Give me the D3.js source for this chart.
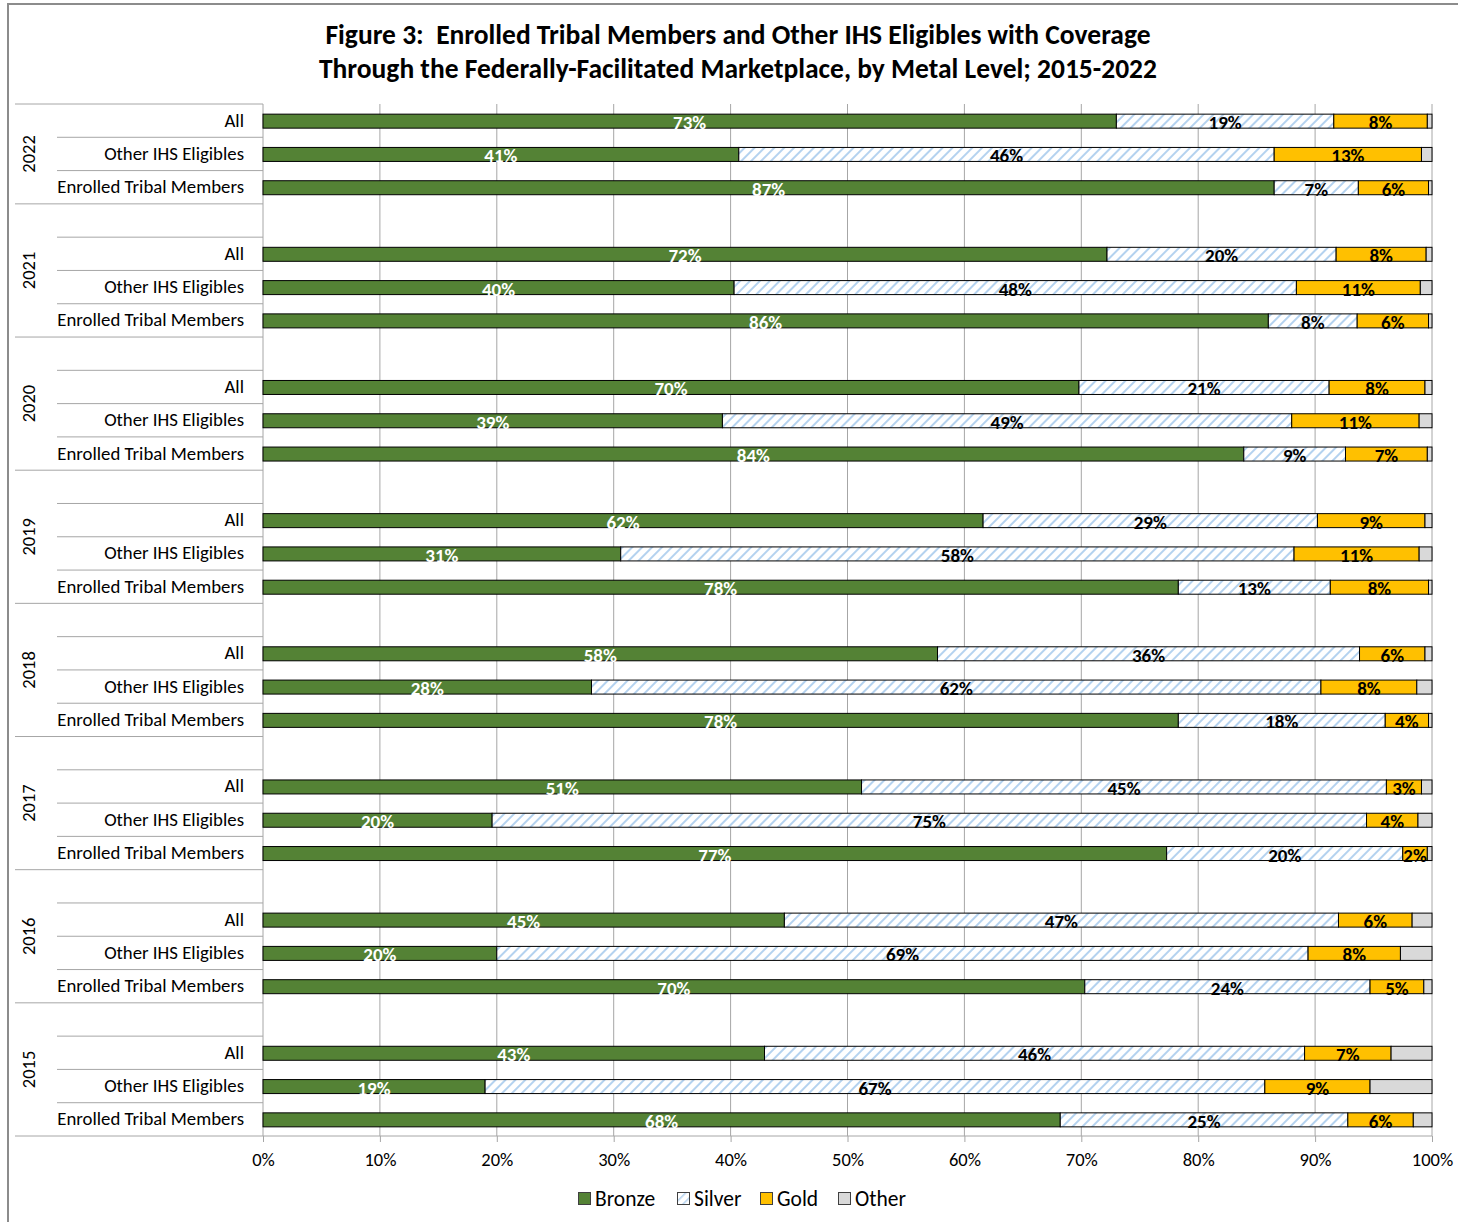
<!DOCTYPE html>
<html>
<head>
<meta charset="utf-8">
<script src="https://cdn.jsdelivr.net/npm/d3@7"></script>
<style>
  body { margin: 0; background: #fff; }
  svg { font-family: Carlito, Calibri, Lato, sans-serif; }
</style>
</head>
<body>
<svg id="canvas" width="1458" height="1222"></svg>
<script>
// years from top to bottom, groups inside each year from top to bottom
let years = ['2022', '2021', '2020', '2019', '2018', '2017', '2016', '2015']
let groups = ['All', 'Other IHS Eligibles', 'Enrolled Tribal Members']
let metals = ['Bronze', 'Silver', 'Gold', 'Other']

// shares in percent, 3 values per year (All, Other IHS, Enrolled), years 2022 -> 2015
let bronze = [73.0, 40.7, 86.5,  72.2, 40.3, 86.0,  69.8, 39.3, 83.9,  61.6, 30.6, 78.3,
              57.7, 28.1, 78.3,  51.2, 19.6, 77.3,  44.6, 20.0, 70.3,  42.9, 19.0, 68.2]
let silver = [18.6, 45.8,  7.2,  19.6, 48.1,  7.6,  21.4, 48.7,  8.7,  28.6, 57.6, 13.0,
              36.1, 62.4, 17.7,  44.9, 74.8, 20.2,  47.4, 69.4, 24.4,  46.2, 66.7, 24.6]
let gold   = [ 8.0, 12.6,  6.0,   7.7, 10.6,  6.1,   8.2, 10.9,  7.0,   9.2, 10.7,  8.4,
               5.6,  8.2,  3.7,   3.0,  4.4,  2.1,   6.3,  7.9,  4.6,   7.4,  9.0,  5.6]
let other  = [ 0.4,  0.9,  0.3,   0.5,  1.0,  0.3,   0.6,  1.1,  0.4,   0.6,  1.1,  0.3,
               0.6,  1.3,  0.3,   0.9,  1.2,  0.4,   1.7,  2.7,  0.7,   3.5,  5.3,  1.6]
let xTicks = [0, 10, 20, 30, 40, 50, 60, 70, 80, 90, 100]

let colors = { Bronze: '#548235', Silver: 'url(#hatch)', Gold: '#ffc000', Other: '#d9d9d9' }
let legendColors = { Bronze: '#548235', Silver: 'url(#hatchSmall)', Gold: '#ffc000', Other: '#d9d9d9' }

let canvas = d3.select('#canvas')

let defs = canvas.append('defs')
let makeHatch = (id, size, width) => {
    let p = defs.append('pattern')
        .attr('id', id)
        .attr('patternUnits', 'userSpaceOnUse')
        .attr('width', size).attr('height', size)
        .attr('patternTransform', 'rotate(45)')
    p.append('rect').attr('width', size).attr('height', size).attr('fill', '#fff')
    p.append('line')
        .attr('x1', 0).attr('y1', 0).attr('x2', 0).attr('y2', size)
        .attr('stroke', '#b4d2ef').attr('stroke-width', width)
}
makeHatch('hatch', 7, 4)
makeHatch('hatchSmall', 6, 3)

// chart frame (right and bottom edges fall outside the picture)
canvas.append('rect')
    .attr('x', 8).attr('y', 4).attr('width', 1480).attr('height', 1250)
    .attr('fill', 'none').attr('stroke', '#8c8c8c').attr('stroke-width', 2)

// title
let title = canvas.append('text')
    .attr('text-anchor', 'middle')
    .attr('font-weight', 'bold')
    .attr('font-size', 27.5)
    .attr('fill', '#000')
    .style('white-space', 'pre')
title.append('tspan').attr('x', 738).attr('y', 44)
    .text('Figure 3:  Enrolled Tribal Members and Other IHS Eligibles with Coverage')
title.append('tspan').attr('x', 738).attr('y', 78)
    .text('Through the Federally-Facilitated Marketplace, by Metal Level; 2015-2022')

// rows: each year after the first starts with an empty slot
let rows = []
years.forEach((year, yi) => {
    if (yi > 0) rows.push({ key: year + '-gap', year: year, gap: true })
    groups.forEach((g, gi) => {
        let i = yi * groups.length + gi
        rows.push({
            key: year + '-' + g, year: year, group: g, gap: false,
            values: { Bronze: bronze[i], Silver: silver[i], Gold: gold[i], Other: other[i] }
        })
    })
})

let plotLeft = 263, plotRight = 1432, plotTop = 104, plotBottom = 1136

let xScale = d3.scaleLinear().domain([0, 100]).range([plotLeft, plotRight])
let yScale = d3.scaleBand().domain(rows.map(r => r.key)).range([plotTop, plotBottom]).padding(0)
let bw = yScale.bandwidth()
let barH = 14

// vertical gridlines
canvas.append('g').selectAll('line')
    .data(xTicks.slice(1))
    .enter().append('line')
    .attr('x1', d => xScale(d)).attr('x2', d => xScale(d))
    .attr('y1', plotTop).attr('y2', plotBottom)
    .attr('stroke', '#a6a6a6').attr('stroke-width', 1)

// x axis
let xAxis = d3.axisBottom(xScale)
    .tickValues(xTicks)
    .tickFormat(d => d + '%')
    .tickSize(6)
    .tickPadding(11)
let axisG = canvas.append('g')
    .attr('transform', 'translate(0,' + plotBottom + ')')
    .call(xAxis)
axisG.select('.domain').attr('stroke', '#a6a6a6').attr('d', 'M' + plotLeft + ',0H' + plotRight)
axisG.selectAll('.tick line').attr('stroke', '#a6a6a6')
axisG.selectAll('.tick text')
    .attr('font-family', 'Carlito, Calibri, Lato, sans-serif')
    .attr('font-size', 18.5).attr('fill', '#000')

// y axis line
canvas.append('line')
    .attr('x1', plotLeft).attr('x2', plotLeft)
    .attr('y1', plotTop).attr('y2', plotBottom)
    .attr('stroke', '#a6a6a6')

// category separators: long lines between years, short lines inside a year
let boundaries = []
rows.forEach((r, i) => {
    let y = yScale(r.key)
    let newYear = i === 0 || rows[i - 1].year !== r.year
    boundaries.push({ y: y, long: newYear })
})
boundaries.push({ y: plotBottom, long: true })
canvas.append('g').selectAll('line')
    .data(boundaries)
    .enter().append('line')
    .attr('x1', d => d.long ? 15 : 57).attr('x2', plotLeft)
    .attr('y1', d => d.y).attr('y2', d => d.y)
    .attr('stroke', '#a6a6a6').attr('stroke-width', 1)

// group labels
canvas.append('g').selectAll('text')
    .data(rows.filter(r => !r.gap))
    .enter().append('text')
    .attr('x', 244)
    .attr('y', r => yScale(r.key) + bw / 2 + 6)
    .attr('text-anchor', 'end')
    .attr('font-size', 18.8)
    .attr('fill', '#000')
    .text(r => r.group)

// year labels
canvas.append('g').selectAll('text')
    .data(years)
    .enter().append('text')
    .attr('transform', year => {
        let yearRows = rows.filter(r => r.year === year)
        let top = yScale(yearRows[0].key)
        let bottom = yScale(yearRows[yearRows.length - 1].key) + bw
        return 'translate(35,' + ((top + bottom) / 2) + ') rotate(-90)'
    })
    .attr('text-anchor', 'middle')
    .attr('font-size', 18.5)
    .attr('fill', '#000')
    .text(d => d)

// stacked bars
let segments = []
rows.filter(r => !r.gap).forEach(r => {
    let start = 0
    metals.forEach(m => {
        let v = r.values[m]
        segments.push({ row: r, metal: m, x0: start, x1: start + v, value: v })
        start += v
    })
})

let block = canvas.append('g').selectAll('g')
    .data(segments)
    .enter().append('g')

block.append('rect')
    .attr('x', s => xScale(s.x0))
    .attr('y', s => yScale(s.row.key) + (bw - barH) / 2 + 0.5)
    .attr('width', s => xScale(s.x1) - xScale(s.x0))
    .attr('height', barH)
    .attr('fill', s => colors[s.metal])
    .attr('stroke', '#000')
    .attr('stroke-width', 1)

block.filter(s => s.metal !== 'Other')
    .append('text')
    .attr('x', s => xScale((s.x0 + s.x1) / 2))
    .attr('y', s => yScale(s.row.key) + (bw - barH) / 2 + barH + 1.5)
    .attr('text-anchor', 'middle')
    .attr('font-size', 19)
    .attr('font-weight', 'bold')
    .attr('fill', s => s.metal === 'Bronze' ? '#fff' : '#000')
    .text(s => Math.round(s.value) + '%')

// legend
let legendX = [578, 677, 760, 838]
let legend = canvas.append('g').selectAll('g')
    .data(metals)
    .enter().append('g')
    .attr('transform', (m, i) => 'translate(' + legendX[i] + ',1192)')
legend.append('rect')
    .attr('x', 0.5).attr('y', 0.5)
    .attr('width', 12).attr('height', 12)
    .attr('fill', m => legendColors[m])
    .attr('stroke', '#404040')
legend.append('text')
    .attr('x', 17).attr('y', 14)
    .attr('font-size', 21.5)
    .attr('fill', '#000')
    .text(m => m)
</script>
</body>
</html>
